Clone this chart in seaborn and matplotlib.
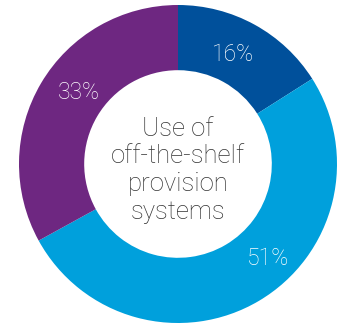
import numpy as np
import matplotlib
matplotlib.use("Agg")
import matplotlib.pyplot as plt
import seaborn as sns

categories = ["Segment A", "Segment B", "Segment C"]
values = [16, 51, 33]
labels = ["16%", "51%", "33%"]
colors = ["#00509b", "#00a0dc", "#6e2781"]
center_text = "Use of\noff-the-shelf\nprovision\nsystems"

sns.set_theme(style="white")
plt.rcParams['font.family'] = ['Roboto', 'DejaVu Sans']

fig = plt.figure(figsize=(3.37, 3.24), dpi=100)
ax = fig.add_axes([19/337, 1/324, 318/337, 318/324])

inner = 0.59
wedges, _ = ax.pie(values, colors=colors, startangle=90, counterclock=False,
                   radius=1.0, wedgeprops=dict(width=1 - inner, linewidth=0))

# label placement: angle offset (deg) relative to slice midpoint, radius
label_shift = [2, 13, -5]
label_r = [0.77, 0.82, 0.77]
for w, lab, sh, r in zip(wedges, labels, label_shift, label_r):
    mid = (w.theta1 + w.theta2) / 2 + sh
    x = r * np.cos(np.deg2rad(mid))
    y = r * np.sin(np.deg2rad(mid))
    ax.text(x, y, lab, ha="center", va="center", color="white",
            fontsize=16.5, fontweight="light")

ax.text(0, -0.04, center_text, ha="center", va="center", color="#333333",
        fontsize=18.5, fontweight="light", linespacing=1.2)

ax.set_xlim(-1, 1)
ax.set_ylim(-1, 1)
ax.set_aspect("auto")
ax.axis("off")
fig.savefig("out.png", dpi=100, facecolor="white")
